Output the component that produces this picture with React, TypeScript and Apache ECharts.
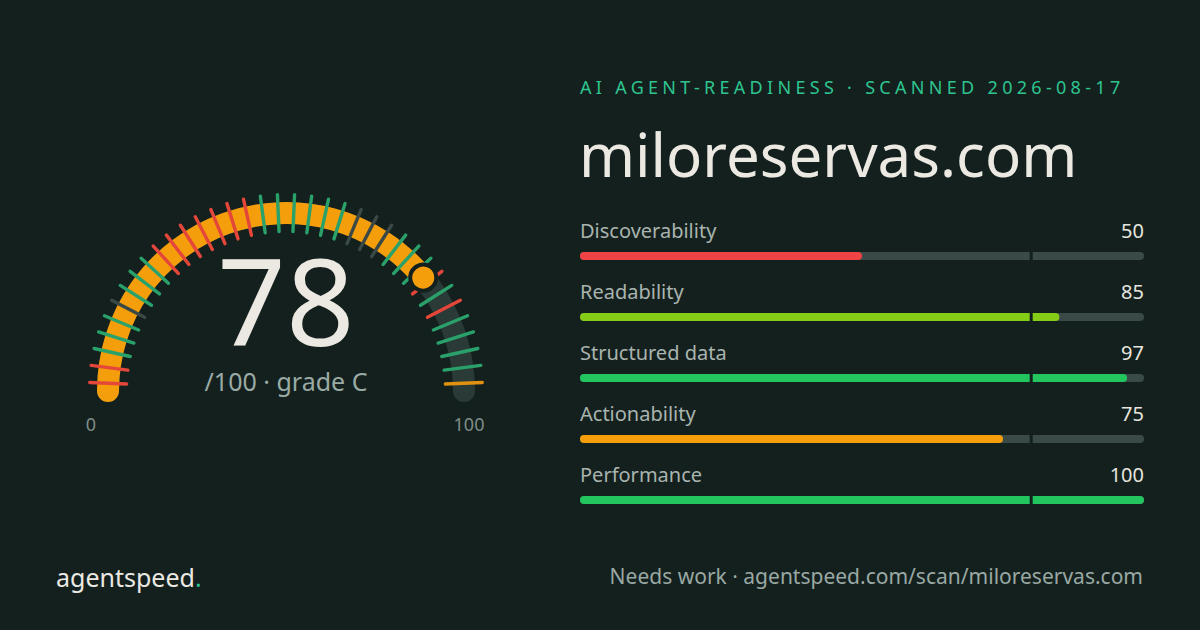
import React, { useEffect, useRef } from "react";
import * as echarts from "echarts";

// ---------- data ----------
const SITE = "miloreservas.com";
const SCAN_DATE = "2026-08-17";
const SCORE = 78;
const GRADE = "C";
const SCORE_MIN = 0;
const SCORE_MAX = 100;
const AXIS_END_LABELS = ["0", "100"];

// status of each check, from the 0 end to the 100 end of the gauge
const CHECK_STATUS = [
  "fail", "fail", "pass", "pass", "pass", "skip", "pass", "pass", "pass",
  "fail", "fail", "fail", "fail", "fail", "fail", "fail",
  "pass", "pass", "pass", "pass", "pass", "pass",
  "skip", "skip", "skip",
  "pass", "pass", "pass", "fail", "pass", "fail", "pass", "pass", "pass", "pass",
  "warn",
];

const CATEGORIES = ["Discoverability", "Readability", "Structured data", "Actionability", "Performance"];
const CATEGORY_SCORES = [50, 85, 97, 75, 100];
const CATEGORY_COLORS = ["#ef4444", "#84cc16", "#22c55e", "#f59e0b", "#22c55e"];
const THRESHOLD = 80;

const VERDICT = "Needs work";

// ---------- styles ----------
const FONT = '"Noto Sans", "DejaVu Sans", sans-serif';
const BG = "#13201e";
const STATUS_COLORS: Record<string, string> = {
  pass: "#2aa16a",
  fail: "#e4473a",
  skip: "#3a4946",
  warn: "#e0910f",
};

export default function App() {
  const ref = useRef<HTMLDivElement>(null);

  useEffect(() => {
    if (!ref.current) return;
    const chart = echarts.init(ref.current, null, { renderer: "svg", width: 1200, height: 630 });

    const n = CHECK_STATUS.length;
    const gaps = n - 1;
    const tickStops: [number, string][] = CHECK_STATUS.map((s, i) => [
      i === gaps ? 1 : (i + 0.5) / gaps,
      STATUS_COLORS[s],
    ]);
    const half = 180 / n / 2;
    const center = [286, 391];

    const option: any = {
      animation: false,
      backgroundColor: BG,
      textStyle: { fontFamily: FONT },
      grid: { left: 580, right: 56, top: 225.5, height: 305 },
      xAxis: { type: "value", min: 0, max: 100, show: false },
      yAxis: { type: "category", data: CATEGORIES, inverse: true, show: false },
      series: [
        {
          type: "gauge",
          center,
          radius: 189,
          startAngle: 180,
          endAngle: 0,
          min: SCORE_MIN,
          max: SCORE_MAX,
          z: 1,
          axisLine: { show: true, roundCap: true, lineStyle: { width: 22, color: [[1, "#2a3a37"]] } },
          progress: { show: true, width: 22, roundCap: true, itemStyle: { color: "#f59e0b" } },
          pointer: { show: false },
          anchor: { show: false },
          axisTick: { show: false },
          splitLine: { show: false },
          axisLabel: { show: false },
          title: { show: false },
          detail: { show: false },
          data: [{ value: SCORE }],
        },
        {
          type: "gauge",
          center,
          radius: 196.5,
          startAngle: 180 - half,
          endAngle: half,
          min: 0,
          max: gaps,
          splitNumber: gaps,
          z: 2,
          axisLine: { show: false, lineStyle: { width: 0, color: tickStops } },
          splitLine: { show: true, length: 37, distance: 0, lineStyle: { width: 3.4, color: "auto", cap: "round" } },
          axisTick: { show: false },
          axisLabel: { show: false },
          progress: { show: false },
          pointer: { show: false },
          anchor: { show: false },
          title: { show: false },
          detail: { show: false },
          data: [{ value: 0 }],
        },
        {
          type: "gauge",
          center,
          radius: 178,
          startAngle: 180,
          endAngle: 0,
          min: SCORE_MIN,
          max: SCORE_MAX,
          z: 3,
          axisLine: { show: false, lineStyle: { width: 0 } },
          splitLine: { show: false },
          axisTick: { show: false },
          axisLabel: { show: false },
          progress: { show: false },
          anchor: { show: false },
          pointer: {
            show: true,
            icon: "circle",
            length: 26,
            width: 26,
            offsetCenter: [0, -165],
            keepAspect: true,
            itemStyle: { color: "#f59e0b", borderColor: BG, borderWidth: 4 },
          },
          title: { show: true, offsetCenter: [0, -10], fontSize: 25, color: "#9aaaa4", fontFamily: FONT },
          detail: {
            show: true,
            offsetCenter: [0, -92],
            fontSize: 120,
            lineHeight: 100,
            fontWeight: 400,
            color: "#ece9e3",
            fontFamily: FONT,
            formatter: "{value}",
          },
          data: [{ value: SCORE, name: `/${SCORE_MAX} · grade ${GRADE}` }],
        },
        {
          type: "bar",
          barWidth: 8,
          barGap: "-100%",
          silent: true,
          z: 2,
          itemStyle: { color: "#3a4a47", borderRadius: 4 },
          label: {
            show: true,
            position: [0, -21.5],
            align: "left",
            verticalAlign: "middle",
            formatter: "{b}",
            color: "#aab4af",
            fontSize: 20,
            fontFamily: FONT,
          },
          data: CATEGORIES.map(() => 100),
        },
        {
          type: "bar",
          barWidth: 8,
          barGap: "-100%",
          silent: true,
          z: 3,
          itemStyle: { borderRadius: 4 },
          data: CATEGORY_SCORES.map((v, i) => ({ value: v, itemStyle: { color: CATEGORY_COLORS[i] } })),
        },
        {
          type: "bar",
          barWidth: 8,
          barGap: "-100%",
          silent: true,
          z: 1,
          itemStyle: { color: "rgba(0,0,0,0)" },
          label: {
            show: true,
            position: ["100%", -21.5],
            align: "right",
            verticalAlign: "middle",
            formatter: (p: any) => String(CATEGORY_SCORES[p.dataIndex]),
            color: "#e7e5df",
            fontSize: 20,
            fontFamily: FONT,
          },
          data: CATEGORIES.map(() => 100),
        },
        {
          type: "scatter",
          symbol: "rect",
          symbolSize: [3, 10],
          silent: true,
          z: 6,
          itemStyle: { color: BG, opacity: 1 },
          data: CATEGORIES.map((c) => [THRESHOLD, c]),
        },
      ],
      graphic: [
        {
          type: "text",
          id: "header",
          x: 580,
          y: 87,
          style: {
            text: `AI AGENT-READINESS · SCANNED ${SCAN_DATE}`,
            fill: "#2ec48f",
            font: `18px ${FONT}`,
            verticalAlign: "middle",
            align: "left",
          },
        },
        {
          type: "text",
          x: 579,
          y: 154,
          style: { text: SITE, fill: "#ece9e3", font: `60px ${FONT}`, verticalAlign: "middle", align: "left" },
        },
        {
          type: "text",
          x: 91,
          y: 424,
          style: { text: AXIS_END_LABELS[0], fill: "#7f8d89", font: `18px ${FONT}`, verticalAlign: "middle", align: "center" },
        },
        {
          type: "text",
          x: 469,
          y: 424,
          style: { text: AXIS_END_LABELS[1], fill: "#7f8d89", font: `18px ${FONT}`, verticalAlign: "middle", align: "center" },
        },
        {
          type: "text",
          x: 56,
          y: 577,
          style: {
            text: "{a|agentspeed}{b|.}",
            verticalAlign: "middle",
            align: "left",
            rich: {
              a: { fill: "#ece9e3", fontSize: 25, fontFamily: FONT },
              b: { fill: "#2ec48f", fontSize: 25, fontFamily: FONT },
            },
          },
        },
        {
          type: "text",
          x: 1143,
          y: 576,
          style: {
            text: `${VERDICT} · agentspeed.com/scan/${SITE}`,
            fill: "#9aa8a3",
            font: `21px ${FONT}`,
            verticalAlign: "middle",
            align: "right",
          },
        },
      ],
    };

    chart.setOption(option);

    const applySpacing = () => {
      const texts = ref.current ? ref.current.querySelectorAll("text") : [];
      texts.forEach((t: any) => {
        if ((t.textContent || "").startsWith("AI AGENT")) t.setAttribute("letter-spacing", "4.3");
      });
    };
    applySpacing();
    chart.on("finished", applySpacing);

    return () => {
      chart.dispose();
    };
  }, []);

  return (
    <div
      ref={ref}
      style={{ position: "fixed", left: 0, top: 0, width: 1200, height: 630 }}
    />
  );
}
